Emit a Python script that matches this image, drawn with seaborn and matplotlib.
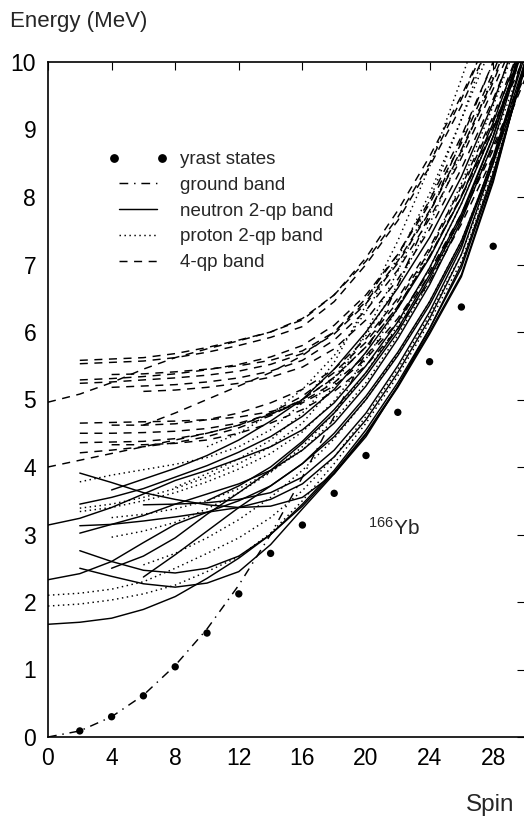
import numpy as np
import pandas as pd
import matplotlib
matplotlib.use("Agg")
import matplotlib.pyplot as plt
from matplotlib.lines import Line2D
from matplotlib.legend_handler import HandlerLine2D
import seaborn as sns

# ---------------- data ----------------
yrast_spin = [2, 4, 6, 8, 10, 12, 14, 16, 18, 20, 22, 24, 26, 28]
yrast_E = [0.09, 0.30, 0.61, 1.04, 1.54, 2.12, 2.72, 3.14, 3.61, 4.17, 4.81, 5.56, 6.37, 7.27]

ground_spin = [0, 2, 4, 6, 8, 10, 12, 14, 16, 18, 20, 22, 24, 26, 28, 30]
ground_E = [0.0, 0.09, 0.30, 0.62, 1.06, 1.60, 2.25, 3.00, 3.85, 4.75, 5.70, 6.70, 7.75, 8.85, 10.0, 11.2]

# neutron 2-qp bands (solid): first spin of each band, energies at every 2nd spin
neutron_start = [0, 0, 0, 2, 2, 2, 2, 2, 4, 6, 4, 6, 2, 10]
neutron_E = [
    [1.67, 1.70, 1.76, 1.89, 2.08, 2.35, 2.65, 3.00, 3.42, 3.92, 4.50, 5.20, 6.00, 6.85, 8.25, 10.0],
    [2.33, 2.42, 2.60, 2.88, 3.15, 3.33, 3.50, 3.72, 4.05, 4.50, 5.05, 5.70, 6.45, 7.35, 8.55, 10.0],
    [3.14, 3.24, 3.40, 3.60, 3.80, 3.95, 4.12, 4.30, 4.55, 4.95, 5.50, 6.15, 6.95, 7.90, 9.00, 10.3],
    [3.91, 3.77, 3.62, 3.52, 3.44, 3.40, 3.42, 3.55, 3.90, 4.45, 5.20, 6.05, 7.00, 8.35, 9.90],
    [3.13, 3.15, 3.20, 3.26, 3.33, 3.40, 3.52, 3.75, 4.15, 4.70, 5.40, 6.20, 7.15, 8.50, 10.2],
    [3.02, 3.15, 3.28, 3.45, 3.60, 3.75, 3.95, 4.25, 4.65, 5.20, 5.90, 6.70, 7.65, 8.80, 10.3],
    [2.76, 2.60, 2.47, 2.43, 2.50, 2.68, 3.00, 3.45, 3.95, 4.55, 5.25, 6.05, 6.95, 8.30, 9.95],
    [2.50, 2.38, 2.27, 2.22, 2.28, 2.45, 2.85, 3.38, 3.90, 4.48, 5.18, 5.97, 6.82, 8.22, 10.0],
    [2.50, 2.68, 2.95, 3.30, 3.62, 3.95, 4.35, 4.80, 5.35, 6.00, 6.80, 7.70, 8.90, 10.4],
    [2.37, 2.70, 3.05, 3.40, 3.72, 4.05, 4.45, 5.00, 5.65, 6.40, 7.30, 8.50, 9.90],
    [3.66, 3.82, 3.98, 4.17, 4.40, 4.68, 5.00, 5.45, 6.00, 6.65, 7.40, 8.30, 9.40, 10.7],
    [3.44, 3.45, 3.47, 3.52, 3.62, 3.85, 4.25, 4.80, 5.50, 6.30, 7.25, 8.60, 10.1],
    [3.45, 3.55, 3.68, 3.85, 4.02, 4.22, 4.45, 4.75, 5.15, 5.70, 6.35, 7.10, 8.00, 9.10, 10.4],
    [3.50, 3.72, 4.00, 4.38, 4.85, 5.40, 6.05, 6.85, 7.75, 8.90, 10.3],
]

# proton 2-qp bands (dotted)
proton_start = [0, 0, 2, 2, 2, 4, 4, 6, 8, 10]
proton_E = [
    [2.10, 2.13, 2.19, 2.30, 2.50, 2.72, 2.95, 3.25, 3.65, 4.15, 4.75, 5.45, 6.25, 7.15, 8.40, 9.90],
    [1.94, 1.97, 2.03, 2.12, 2.25, 2.45, 2.67, 3.02, 3.50, 4.05, 4.65, 5.35, 6.15, 7.05, 8.35, 9.95],
    [3.78, 3.88, 3.96, 4.04, 4.14, 4.30, 4.55, 4.95, 5.55, 6.40, 7.35, 8.45, 9.75, 11.1],
    [3.39, 3.45, 3.55, 3.68, 3.85, 4.05, 4.30, 4.65, 5.20, 6.00, 6.90, 7.95, 9.15, 10.5],
    [3.34, 3.40, 3.50, 3.62, 3.78, 3.97, 4.20, 4.52, 4.98, 5.60, 6.35, 7.20, 8.20, 9.35, 10.6],
    [2.96, 3.05, 3.18, 3.38, 3.62, 3.92, 4.30, 4.80, 5.40, 6.10, 6.95, 7.90, 9.00, 10.3],
    [3.25, 3.30, 3.38, 3.50, 3.68, 3.93, 4.25, 4.70, 5.25, 5.95, 6.75, 7.70, 8.80, 10.1],
    [2.55, 2.72, 2.95, 3.22, 3.55, 3.95, 4.42, 5.00, 5.68, 6.45, 7.35, 8.55, 9.95],
    [3.70, 3.90, 4.12, 4.40, 4.80, 5.32, 5.95, 6.70, 7.60, 8.65, 9.80],
    [4.30, 4.50, 4.78, 5.15, 5.65, 6.30, 7.10, 8.05, 9.15, 10.3],
]

# 4-qp bands (dashed)
fourqp_start = [2, 2, 0, 2, 2, 4, 4, 6, 2, 2, 2, 2, 0, 6, 4, 4]
fourqp_E = [
    [5.58, 5.60, 5.62, 5.68, 5.77, 5.88, 6.00, 6.18, 6.55, 7.10, 7.80, 8.60, 9.50, 10.5],
    [5.53, 5.55, 5.57, 5.62, 5.70, 5.80, 5.92, 6.08, 6.45, 7.00, 7.65, 8.45, 9.35, 10.4],
    [4.96, 5.08, 5.25, 5.45, 5.62, 5.75, 5.87, 6.00, 6.20, 6.55, 7.05, 7.70, 8.50, 9.45, 10.5],
    [5.29, 5.31, 5.34, 5.38, 5.44, 5.52, 5.63, 5.80, 6.10, 6.55, 7.15, 7.90, 8.80, 9.85, 11.0],
    [5.24, 5.26, 5.29, 5.32, 5.36, 5.42, 5.52, 5.68, 5.97, 6.42, 7.02, 7.78, 8.68, 9.70, 10.9],
    [5.18, 5.20, 5.22, 5.26, 5.32, 5.42, 5.58, 5.88, 6.32, 6.92, 7.68, 8.58, 9.60, 10.7],
    [5.37, 5.38, 5.41, 5.45, 5.50, 5.58, 5.72, 6.00, 6.45, 7.05, 7.80, 8.70, 9.75, 10.9],
    [5.12, 5.14, 5.18, 5.24, 5.33, 5.48, 5.75, 6.18, 6.78, 7.52, 8.42, 9.45, 10.6],
    [4.65, 4.66, 4.67, 4.68, 4.70, 4.74, 4.82, 4.95, 5.20, 5.60, 6.15, 6.85, 7.70, 8.70, 9.80],
    [4.50, 4.50, 4.51, 4.53, 4.57, 4.65, 4.78, 4.97, 5.25, 5.65, 6.20, 6.90, 7.75, 8.75, 9.85],
    [4.36, 4.37, 4.38, 4.42, 4.50, 4.62, 4.80, 5.05, 5.40, 5.85, 6.45, 7.20, 8.10, 9.15, 10.3],
    [4.21, 4.25, 4.30, 4.36, 4.45, 4.58, 4.76, 5.00, 5.33, 5.78, 6.38, 7.12, 8.00, 9.00, 10.1],
    [4.00, 4.10, 4.20, 4.30, 4.40, 4.50, 4.62, 4.78, 5.00, 5.32, 5.78, 6.38, 7.12, 8.02, 9.05, 10.2],
    [4.62, 4.80, 5.00, 5.20, 5.40, 5.65, 6.00, 6.50, 7.15, 7.95, 8.90, 10.0],
    [4.62, 4.62, 4.64, 4.70, 4.80, 4.95, 5.15, 5.45, 5.90, 6.50, 7.25, 8.15, 9.20, 10.4],
    [4.33, 4.33, 4.35, 4.40, 4.50, 4.65, 4.85, 5.12, 5.50, 6.05, 6.75, 7.60, 8.60, 9.75],
]

x_ticks = [0, 4, 8, 12, 16, 20, 24, 28]
y_ticks = [0, 1, 2, 3, 4, 5, 6, 7, 8, 9, 10]
legend_labels = ["yrast states", "ground band", "neutron 2-qp band", "proton 2-qp band", "4-qp band"]


def band_frame(starts, energies):
    rows = []
    for b, (s0, es) in enumerate(zip(starts, energies)):
        for j, e in enumerate(es):
            rows.append({"band": b, "spin": s0 + 2 * j, "energy": e})
    return pd.DataFrame(rows)


# ---------------- style ----------------
sns.set_theme(style="white")
plt.rcParams["font.family"] = ["Liberation Sans", "DejaVu Sans"]
plt.rcParams["mathtext.fontset"] = "custom"
plt.rcParams["mathtext.rm"] = "Liberation Sans"
plt.rcParams["mathtext.it"] = "Liberation Sans:italic"

fig = plt.figure(figsize=(5.24, 8.23), dpi=100)
ax = fig.add_axes([48 / 524, 86 / 823, 477 / 524, 675 / 823])

LW = 1.05
ls_solid = "-"
ls_dot = (0, (1, 2.4))
ls_dash = (0, (5.5, 4.5))
ls_dashdot = (0, (6, 4, 1, 4))

sns.lineplot(data=band_frame(neutron_start, neutron_E), x="spin", y="energy", units="band",
             estimator=None, color="black", lw=LW, linestyle=ls_solid, ax=ax, legend=False)
sns.lineplot(data=band_frame(proton_start, proton_E), x="spin", y="energy", units="band",
             estimator=None, color="black", lw=LW, linestyle=ls_dot, ax=ax, legend=False)
sns.lineplot(data=band_frame(fourqp_start, fourqp_E), x="spin", y="energy", units="band",
             estimator=None, color="black", lw=LW, linestyle=ls_dash, ax=ax, legend=False)
sns.lineplot(x=ground_spin, y=ground_E, color="black", lw=LW, linestyle=ls_dashdot, ax=ax,
             legend=False)
sns.scatterplot(x=yrast_spin, y=yrast_E, color="black", s=28, edgecolor="none", ax=ax,
                legend=False, zorder=5)

ax.set_xlim(0, 30)
ax.set_ylim(0, 10)
ax.set_xticks(x_ticks)
ax.set_yticks(y_ticks)
ax.set_xlabel("")
ax.set_ylabel("")
ax.tick_params(direction="in", length=6, width=0.8, top=True, right=True,
               labelsize=16.5, colors="black")
ax.tick_params(axis="y", pad=8.5)
ax.tick_params(axis="x", pad=7.5)
for side in ["left", "bottom", "top"]:
    ax.spines[side].set_color("black")
    ax.spines[side].set_linewidth(1.2)
ax.spines["right"].set_visible(False)

yrast_handle = Line2D([], [], ls="none", marker="o", color="black", ms=5.3)
handles = [
    yrast_handle,
    Line2D([], [], color="black", lw=LW, linestyle=ls_dashdot),
    Line2D([], [], color="black", lw=LW, linestyle=ls_solid),
    Line2D([], [], color="black", lw=LW, linestyle=ls_dot),
    Line2D([], [], color="black", lw=LW, linestyle=ls_dash),
]
ax.legend(handles, legend_labels, loc="upper left", bbox_to_anchor=(0.137, 0.868),
          frameon=False, fontsize=13.5, handlelength=2.62, numpoints=2,
          handletextpad=0.95, labelspacing=0.46, borderaxespad=0, borderpad=0,
          handler_map={yrast_handle: HandlerLine2D(marker_pad=0.05, numpoints=2)})

ax.text(20.1, 3.0, r"$^{\mathrm{166}}$Yb", fontsize=15, va="baseline", ha="left")
fig.text(10 / 524, 1 - 22 / 823, "Energy (MeV)", fontsize=16, va="center", ha="left")
fig.text(514 / 524, 1 - 805 / 823, "Spin", fontsize=17.5, va="center", ha="right")

fig.savefig("out.png", dpi=100)
